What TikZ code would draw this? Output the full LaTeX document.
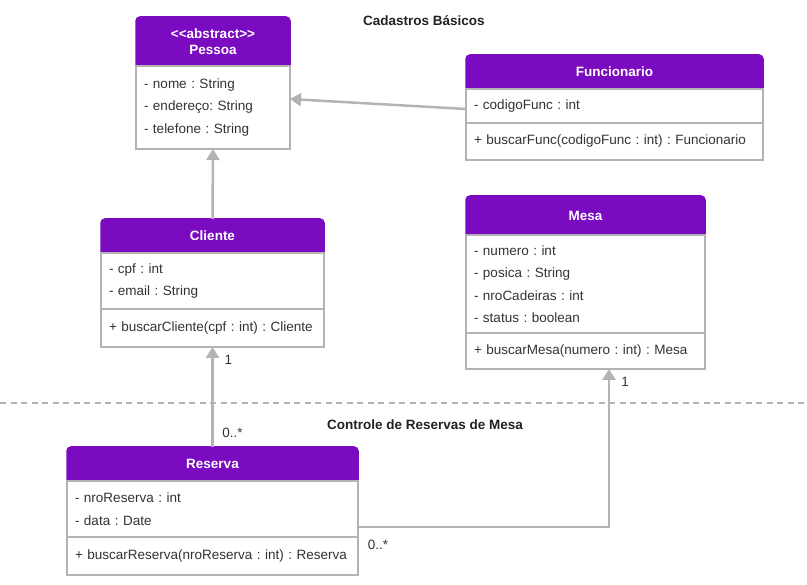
\documentclass[tikz,border=0pt]{standalone}
\usepackage{fontspec}
\setmainfont{Liberation Sans}
\usepackage{tikz}
\usetikzlibrary{positioning,arrows.meta,calc}
\definecolor{colorwhite}{RGB}{255,255,255}
\definecolor{colorhead} {RGB}{122, 11,192}
\definecolor{colorline} {RGB}{179,179,179}
\definecolor{colortext} {RGB}{ 51, 51, 51}
\definecolor{colortitle}{RGB}{ 34, 34, 34}
\frenchspacing

\begin{document}
\begin{tikzpicture}[
    x=1pt, y=-1pt,
    head/.style={draw=colorhead,fill=colorhead,text=colorwhite,line width=1.5pt,rounded corners=4pt,
        font={\fontsize{13.5}{16}\selectfont\bfseries},anchor=north west,align=center,
        inner sep=0pt,outer sep=0pt,text depth=4pt},
    members/.style={draw=colorline,fill=colorwhite,text=colortext,line width=1.5pt,
        font={\fontsize{13.5}{22.5}\selectfont},align=left,inner xsep=8pt,inner ysep=0pt,outer sep=0pt},
    link/.style={draw=colorline,line width=2.5pt,-{Triangle[width=13pt,length=11pt]}},
    mult/.style={text=colortext,inner sep=0pt,font={\fontsize{13.5}{16}\selectfont}},
    area/.style={text=colortitle,font={\fontsize{13.5}{16}\selectfont\bfseries}},
    separator/.style={draw=colorline,line width=1.5pt,dash pattern=on 6pt off 4.5pt}
]
    \useasboundingbox (0,0) rectangle (807,585);

    % Separator between the two areas
    \draw[separator] (0,403) -- (807,403);
    \node[area] (titleCad) at (424,21) {Cadastros Básicos};
    \node[area] (titleRes) at (425,425) {Controle de Reservas de Mesa};

    % Pessoa
    \node[head,minimum width=154pt,minimum height=53pt] (pessoaH) at (136,17) {<\kern0pt<abstract>\kern0pt>\\Pessoa};
    \node[members,text width=138pt,minimum height=83pt,below=-4pt of pessoaH] (pessoaA) {- nome : String\\- endereço: String\\- telefone : String};

    % Funcionario
    \node[head,minimum width=297pt,minimum height=38pt] (funcH) at (466,55) {Funcionario};
    \node[members,text width=281pt,minimum height=34pt,below=-4pt of funcH] (funcA) {- codigoFunc : int};
    \node[members,text width=281pt,minimum height=37pt,below=0pt of funcA] (funcM) {+ buscarFunc(codigoFunc : int) : Funcionario};

    % Cliente
    \node[head,minimum width=223pt,minimum height=38pt] (clienteH) at (101,219) {Cliente};
    \node[members,text width=207pt,minimum height=56pt,below=-4pt of clienteH] (clienteA) {- cpf : int\\- email : String};
    \node[members,text width=207pt,minimum height=38pt,below=0pt of clienteA] (clienteM) {+ buscarCliente(cpf : int) : Cliente};

    % Mesa
    \node[head,minimum width=239pt,minimum height=43pt] (mesaH) at (466,196) {Mesa};
    \node[members,text width=223pt,minimum height=98pt,below=-4pt of mesaH] (mesaA) {- numero : int\\- posica : String\\- nroCadeiras : int\\- status : boolean};
    \node[members,text width=223pt,minimum height=36pt,below=0pt of mesaA] (mesaM) {+ buscarMesa(numero : int) : Mesa};

    % Reserva
    \node[head,minimum width=291pt,minimum height=38pt] (reservaH) at (67,447) {Reserva};
    \node[members,text width=275pt,minimum height=56pt,below=-4pt of reservaH] (reservaA) {- nroReserva : int\\- data : Date};
    \node[members,text width=275pt,minimum height=38pt,below=0pt of reservaA] (reservaM) {+ buscarReserva(nroReserva : int) : Reserva};

    % Generalization
    \draw[link] ([yshift=-3pt]funcA.west) -- ([yshift=8.5pt]pessoaA.east);
    \draw[link] (clienteH.north) -- (pessoaA.south);

    % Associations
    \draw[link] (reservaH.north) -- (clienteM.south);
    \node[mult] (multCli) at ($(clienteM.south)+(16,13)$) {1};
    \node[mult] (multResCli) at ($(reservaH.north)+(20,-14.5)$) {0..*};

    \draw[link] ([yshift=-18pt]reservaA.east) -| ([xshift=23.5pt]mesaM.south);
    \node[mult] (multMesa) at ($(mesaM.south)+(39.5,13)$) {1};
    \node[mult] (multResMesa) at ($(reservaA.east)+(20,36)$) {0..*};

\end{tikzpicture}
\end{document}
